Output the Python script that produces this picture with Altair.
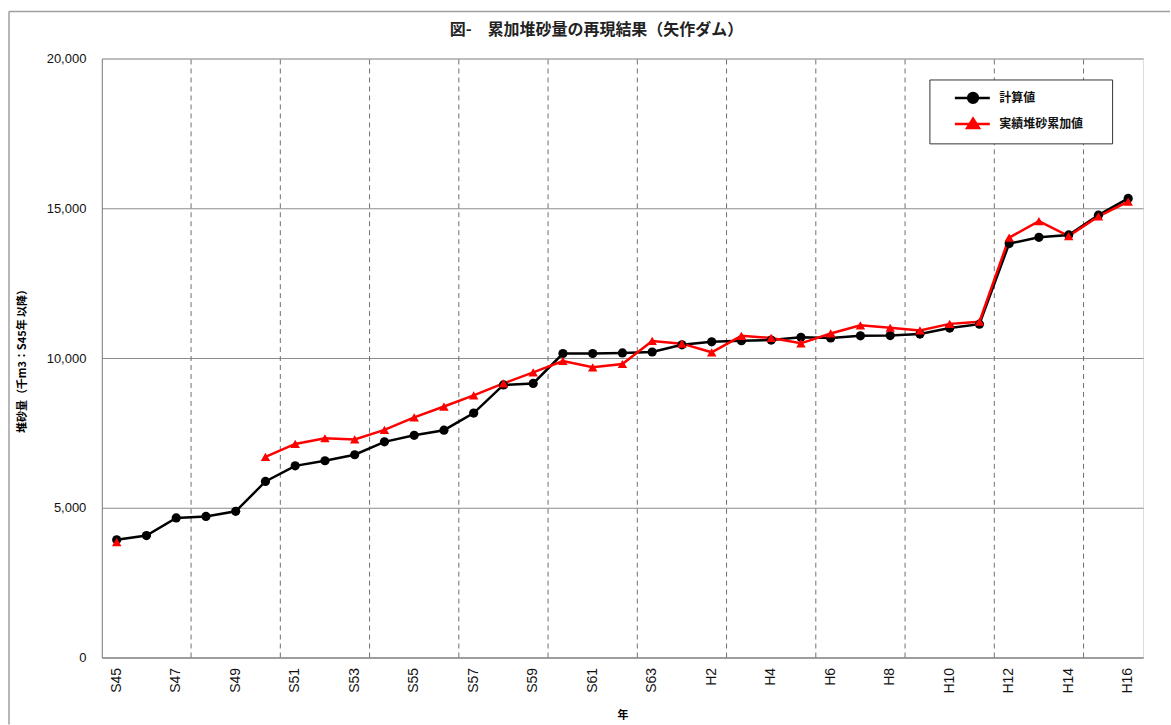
import altair as alt
import pandas as pd

# 年 (昭和45年〜平成16年)
years = ["S45", "S46", "S47", "S48", "S49", "S50", "S51", "S52", "S53", "S54",
         "S55", "S56", "S57", "S58", "S59", "S60", "S61", "S62", "S63",
         "H1", "H2", "H3", "H4", "H5", "H6", "H7", "H8", "H9", "H10",
         "H11", "H12", "H13", "H14", "H15", "H16"]

# 計算値 (千m3)
calc = [3930, 4070, 4660, 4710, 4880, 5880, 6400, 6570, 6770, 7200,
        7420, 7590, 8160, 9100, 9150, 10150, 10150, 10170, 10200,
        10440, 10540, 10580, 10600, 10690, 10670, 10740, 10750, 10800, 11000,
        11130, 13820, 14030, 14110, 14770, 15330]

# 実績堆砂累加値 (千m3)  S46〜S49 は欠測
actual = [3850, None, None, None, None, 6700, 7130, 7320, 7280, 7600,
          8020, 8380, 8750, 9150, 9520, 9900, 9690, 9800, 10570,
          10480, 10190, 10740, 10670, 10490, 10820, 11090, 11010, 10920, 11140,
          11210, 14020, 14570, 14070, 14730, 15220]

series_names = ["計算値", "実績堆砂累加値"]
tick_years = years[::2]
boundary_years = years[3::3]          # 3年ごとの区切り線
y_ticks = [0, 5000, 10000, 15000, 20000]

FONT = "Liberation Sans, Noto Sans CJK JP"
SUB = "Noto Sans CJK JP, Liberation Sans"


def to_rows(name, values):
    rows, seg = [], 0
    prev_missing = False
    for yr, v in zip(years, values):
        if v is None:
            prev_missing = True
            continue
        if prev_missing:
            seg += 1
            prev_missing = False
        rows.append({"年": yr, "堆砂量": v, "系列": name, "区間": f"{name}-{seg}"})
    return rows


df = pd.DataFrame(to_rows(series_names[0], calc) + to_rows(series_names[1], actual))
grid_df = pd.DataFrame({"年": boundary_years})

x_scale = alt.Scale(type="band", domain=years, paddingInner=0, paddingOuter=0)
y_scale = alt.Scale(domain=[0, 20000], nice=False)
color_scale = alt.Scale(domain=series_names, range=["#000000", "#ff0000"])

# legend symbols: short line with marker
PATH_CALC = "M1.0,0H6.0M2.9,0A0.7,0.7 0 1,0 4.3,0A0.7,0.7 0 1,0 2.9,0Z"
PATH_ACT = "M1.0,0H6.0M2.75,0.6L3.6,-0.75L4.45,0.6Z"
is_calc = "datum.value === '計算値'"

legend = alt.Legend(
    title=None, orient="none", legendX=829, legendY=21,
    padding=10, strokeColor="#333333", fillColor="#ffffff",
    symbolSize=196, rowPadding=5, labelOffset=43,
    symbolType=alt.ExprRef(expr=f"{is_calc} ? '{PATH_CALC}' : '{PATH_ACT}'"),
    symbolFillColor=alt.ExprRef(expr=f"{is_calc} ? '#000000' : '#ff0000'"),
    symbolStrokeColor=alt.ExprRef(expr=f"{is_calc} ? '#000000' : '#ff0000'"),
    symbolStrokeWidth=2.5, symbolOpacity=1,
    labelFont=SUB, labelFontSize=12, labelFontWeight="bold", labelColor="#111111",
    labelExpr="datum.label + '\u2800\u2800'",
)

x_axis = alt.Axis(
    values=tick_years, labelAngle=270, ticks=False, grid=False,
    labelFontSize=14, labelPadding=10, labelColor="#111111", labelFont=FONT,
    domainColor="#808080", title="年", titleFont=SUB, titleFontSize=11,
    titleFontWeight="bold", titleY=58, titleBaseline="middle",
)
y_axis = alt.Axis(
    values=y_ticks, format=",d", ticks=False, grid=True, gridColor="#8c8c8c",
    gridWidth=1, labelFontSize=13, labelPadding=16, labelColor="#111111",
    labelFont=FONT, domainColor="#808080",
    title="堆砂量（千m3：S45年 以降）", titleFont=SUB, titleFontSize=11,
    titleFontWeight="bold", titleX=-79, titleBaseline="middle",
)

vgrid = alt.Chart(grid_df).mark_rule(color="#6e6e6e", strokeWidth=1, strokeDash=[5, 4]).encode(
    x=alt.X("年:O", scale=x_scale, bandPosition=0, axis=x_axis),
    y=alt.datum(0, scale=y_scale),
    y2=alt.datum(20000),
)

base = alt.Chart(df).encode(
    x=alt.X("年:O", scale=x_scale, bandPosition=0.5, axis=x_axis),
    y=alt.Y("堆砂量:Q", scale=y_scale, axis=y_axis),
    color=alt.Color("系列:N", scale=color_scale, sort=series_names, legend=legend),
)

lines = base.mark_line(strokeWidth=2.5).encode(detail="区間:N")
calc_pts = base.transform_filter(alt.datum["系列"] == series_names[0]).mark_point(
    filled=True, size=85, opacity=1, shape="circle")
act_pts = base.transform_filter(alt.datum["系列"] == series_names[1]).mark_point(
    filled=True, size=90, opacity=1, shape="triangle-up")

# outer chart frame
one = pd.DataFrame({"k": [0]})
frame_top = alt.Chart(one).mark_rule(color="#a0a0a0", strokeWidth=1.5).encode(
    x=alt.value(-93), x2=alt.value(1070), y=alt.value(-47))
frame_left = alt.Chart(one).mark_rule(color="#a0a0a0", strokeWidth=1.5).encode(
    x=alt.value(-93), y=alt.value(-47), y2=alt.value(667))

chart = alt.layer(frame_top, frame_left, vgrid, lines, calc_pts, act_pts).properties(
    width=1043, height=600,
    padding={"left": 8, "top": 10, "right": 0, "bottom": 0},
    title=alt.TitleParams(
        "図-　累加堆砂量の再現結果（矢作ダム）", font=SUB, fontSize=16,
        fontWeight="bold", color="#222222", anchor="middle", frame="group",
        dx=-26, dy=27, offset=0,
    ),
).configure_view(stroke="#808080", strokeWidth=1).configure(font=FONT)

chart.save("out.html", embed_options={"renderer": "svg", "actions": False})
